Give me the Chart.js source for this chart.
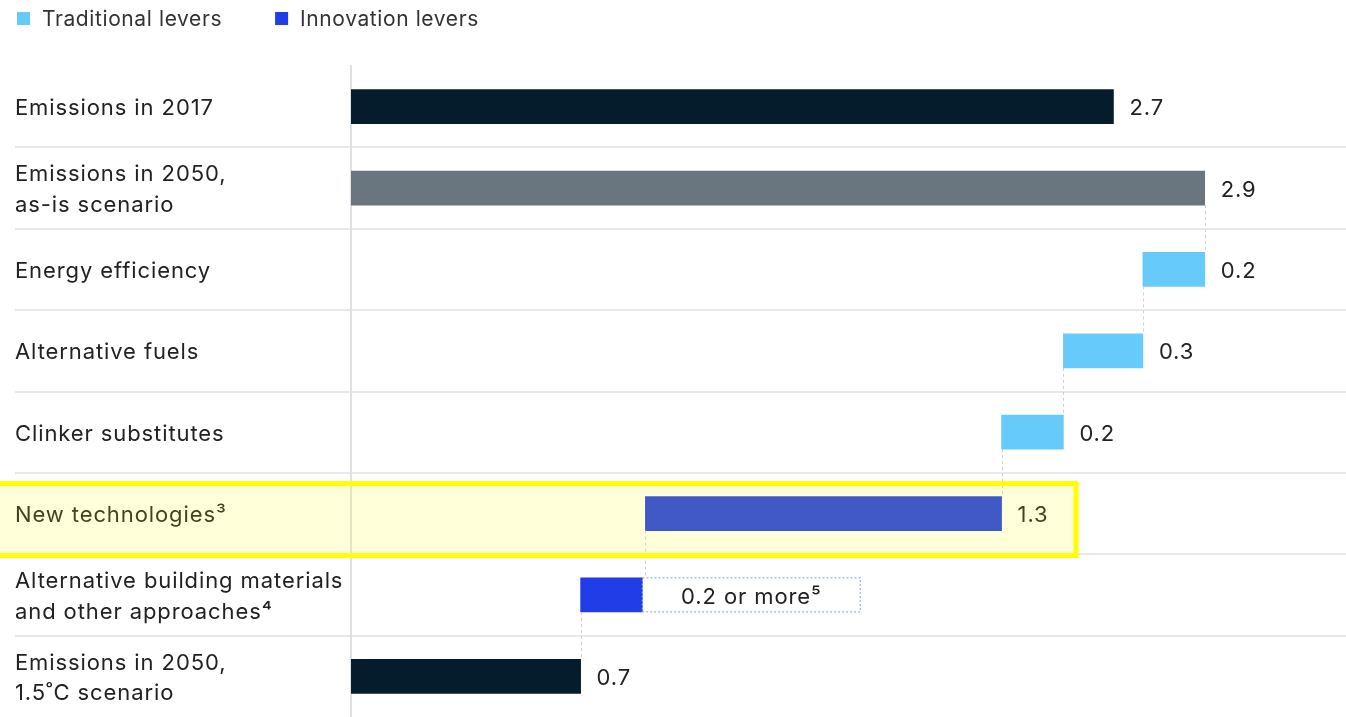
<!DOCTYPE html>
<html>
<head>
<meta charset="utf-8">
<script src="https://cdn.jsdelivr.net/npm/chart.js@4"></script>
<style>
  html, body { margin: 0; padding: 0; background: #fff; overflow: hidden; }
  #graficoCascada { display: block; }
</style>
</head>
<body>
<canvas id="graficoCascada" width="1346" height="717"></canvas>
<script>
const categories = [
    ["Emissions in 2017"],
    ["Emissions in 2050,", "as-is scenario"],
    ["Energy efficiency"],
    ["Alternative fuels"],
    ["Clinker substitutes"],
    ["New technologies\u00b3"],
    ["Alternative building materials", "and other approaches\u2074"],
    ["Emissions in 2050,", "1.5\u02daC scenario"]
];

// bar extents as drawn in the picture (the picture is not to scale with its labels)
const barStart = [0, 0, 2.69, 2.42, 2.21, 1.00, 0.78, 0];
const barEnd = [2.59, 2.90, 2.90, 2.69, 2.42, 2.21, 0.99, 0.78];
const valueLabels = ["2.7", "2.9", "0.2", "0.3", "0.2", "1.3", "0.2 or more\u2075", "0.7"];
const leverType = ["total", "total", "traditional", "traditional", "traditional", "innovation", "innovation", "total"];
const openRangeEnd = 1.73;   // "or more" range of the alternative materials lever
const highlightRow = 5;
const legendItems = ["Traditional levers", "Innovation levers"];

const fuente = "Inter, 'Liberation Sans', sans-serif";
const espaciado = "0.9px";
const barColors = ["#041c2c", "#69767f", "#66cbfa", "#66cbfa", "#66cbfa", "#203de8", "#203de8", "#041c2c"];
const legendColors = ["#66cbfa", "#203de8"];

const decoraciones = {
    id: "decoraciones",
    beforeDraw(chart) {
        chart.ctx.letterSpacing = espaciado;
    },
    beforeDatasetsDraw(chart) {
        const ctx = chart.ctx;
        const y = chart.scales.y;
        ctx.save();
        ctx.strokeStyle = "#e8e8e8";
        ctx.lineWidth = 2;
        for (let i = 0; i < categories.length - 1; i++) {
            let yy = Math.round((y.getPixelForValue(i) + y.getPixelForValue(i + 1)) / 2);
            ctx.beginPath();
            ctx.moveTo(15, yy);
            ctx.lineTo(chart.width, yy);
            ctx.stroke();
        }
        // eje vertical encima de las lineas
        ctx.strokeStyle = "#e0e0e0";
        ctx.beginPath();
        ctx.moveTo(chart.chartArea.left, chart.chartArea.top - 1);
        ctx.lineTo(chart.chartArea.left, chart.chartArea.bottom);
        ctx.stroke();
        ctx.restore();
    },
    afterDatasetsDraw(chart) {
        const ctx = chart.ctx;
        const x = chart.scales.x;
        const meta = chart.getDatasetMeta(0);
        ctx.save();

        // conectores punteados
        ctx.strokeStyle = "#cfcfcf";
        ctx.lineWidth = 1;
        ctx.setLineDash([3, 3]);
        for (let i = 1; i < categories.length - 1; i++) {
            let valor = barStart[i] > 0 ? barStart[i] : barEnd[i];
            let xx = Math.round(x.getPixelForValue(valor)) + 0.5;
            let bar = meta.data[i];
            let next = meta.data[i + 1];
            ctx.beginPath();
            ctx.moveTo(xx, bar.y + bar.height / 2);
            ctx.lineTo(xx, next.y - next.height / 2);
            ctx.stroke();
        }

        // caja punteada "0.2 or more"
        let abierta = meta.data[6];
        let x0 = x.getPixelForValue(barEnd[6]);
        let x1 = x.getPixelForValue(openRangeEnd);
        ctx.strokeStyle = "#9fb0f2";
        ctx.lineWidth = 1.2;
        ctx.setLineDash([2, 2]);
        ctx.strokeRect(x0, abierta.y - abierta.height / 2, x1 - x0, abierta.height);
        ctx.setLineDash([]);

        // etiquetas de valor
        ctx.fillStyle = "#222";
        ctx.font = "22px " + fuente;
        ctx.textBaseline = "middle";
        for (let i = 0; i < valueLabels.length; i++) {
            let bar = meta.data[i];
            if (i === 6) {
                ctx.textAlign = "center";
                ctx.fillText(valueLabels[i], (x0 + x1) / 2, bar.y + 2);
            } else {
                ctx.textAlign = "left";
                ctx.fillText(valueLabels[i], x.getPixelForValue(barEnd[i]) + 16, bar.y + 2);
            }
        }
        ctx.restore();
    },
    afterDraw(chart) {
        const ctx = chart.ctx;
        const y = chart.scales.y;
        ctx.save();

        // leyenda
        ctx.font = "21px " + fuente;
        ctx.letterSpacing = "0.6px";
        ctx.textBaseline = "middle";
        ctx.textAlign = "left";
        let lx = 17;
        legendItems.forEach((texto, i) => {
            ctx.fillStyle = legendColors[i];
            ctx.fillRect(lx, 12, 13, 13);
            ctx.fillStyle = "#333";
            ctx.fillText(texto, lx + 25, 20);
            lx = lx + 25 + ctx.measureText(texto).width + 53;
        });

        // resaltado amarillo
        let cy = y.getPixelForValue(highlightRow) + 6;
        ctx.fillStyle = "rgba(255, 252, 0, 0.15)";
        ctx.fillRect(-10, cy - 36, 1086, 72);
        ctx.strokeStyle = "#ffff00";
        ctx.lineWidth = 5;
        ctx.strokeRect(-10, cy - 36, 1086, 72);
        ctx.restore();
    }
};

new Chart(document.getElementById("graficoCascada"), {
    type: "bar",
    data: {
        labels: categories,
        datasets: [{
            data: barStart.map((s, i) => [s, barEnd[i]]),
            backgroundColor: barColors,
            borderWidth: 0,
            borderSkipped: false,
            barThickness: 34
        }]
    },
    options: {
        indexAxis: "y",
        responsive: false,
        devicePixelRatio: 1,
        animation: false,
        layout: { padding: { top: 66, left: 15, right: 0, bottom: 0 } },
        plugins: {
            legend: { display: false },
            tooltip: { enabled: false }
        },
        scales: {
            x: {
                display: false,
                min: 0,
                max: 3.38
            },
            y: {
                afterFit: scale => {
                    scale.width = 336;
                    scale.paddingTop = 0;
                    scale.paddingBottom = 0;
                },
                grid: { display: false },
                border: { display: false },
                ticks: {
                    autoSkip: false,
                    crossAlign: "far",
                    padding: 0,
                    labelOffset: 2,
                    color: "#222",
                    font: { family: fuente, size: 22, lineHeight: 1.4 }
                }
            }
        }
    },
    plugins: [decoraciones]
});
</script>
</body>
</html>
